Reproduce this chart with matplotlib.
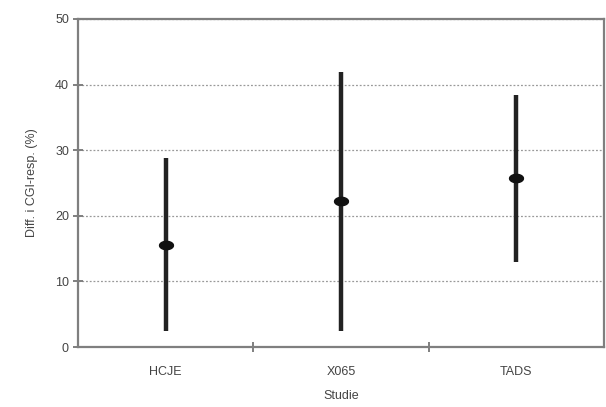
import matplotlib.pyplot as plt
import numpy as np

plt.rcParams['font.family'] = ['Liberation Sans', 'DejaVu Sans']

studier = ['HCJE', 'X065', 'TADS']
diff = [15.5, 22.3, 25.8]
lav = [2.5, 2.5, 13.0]
hoy = [28.8, 41.9, 38.4]

fig = plt.figure(figsize=(6.06, 4.07), dpi=100)
ax = fig.add_axes([0.1287, 0.1474, 0.868, 0.806])

# flat ellipse marker for the point estimate
t = np.linspace(0, 2 * np.pi, 40)
ellipse = np.column_stack([np.cos(t), 0.6 * np.sin(t)])

x = np.arange(len(studier))
for xi, m, lo, hi in zip(x, diff, lav, hoy):
    ax.plot([xi, xi], [lo, hi], color='#222222', lw=3.2, solid_capstyle='butt', zorder=3)
ax.plot(x, diff, linestyle='none', marker=ellipse, markersize=10, color='#111111', zorder=4)

ax.set_xlim(-0.5, 2.5)
ax.set_ylim(0, 50)
ax.set_yticks(np.arange(0, 51, 10))
ax.set_xticks(x)
ax.set_xticklabels(studier)
ax.set_xticks([0.5, 1.5], minor=True)

ax.grid(axis='y', linestyle=(0, (1.5, 1.5)), color='#999999', lw=0.9)
ax.set_axisbelow(True)

for s in ax.spines.values():
    s.set_color('#7f7f7f')
    s.set_linewidth(1.6)

ax.tick_params(axis='y', direction='inout', length=7, width=1.4, color='#7f7f7f',
               labelsize=9, labelcolor='#444444', pad=3)
ax.tick_params(axis='x', which='major', length=0, labelsize=9, labelcolor='#444444', pad=14)
ax.tick_params(axis='x', which='minor', direction='inout', length=7, width=1.4, color='#7f7f7f')

ax.set_ylabel('Diff. i CGI-resp. (%)', fontsize=9, color='#444444', labelpad=12)
ax.set_xlabel('Studie', fontsize=9, color='#444444', labelpad=8)

fig.savefig('out.png', dpi=100)
